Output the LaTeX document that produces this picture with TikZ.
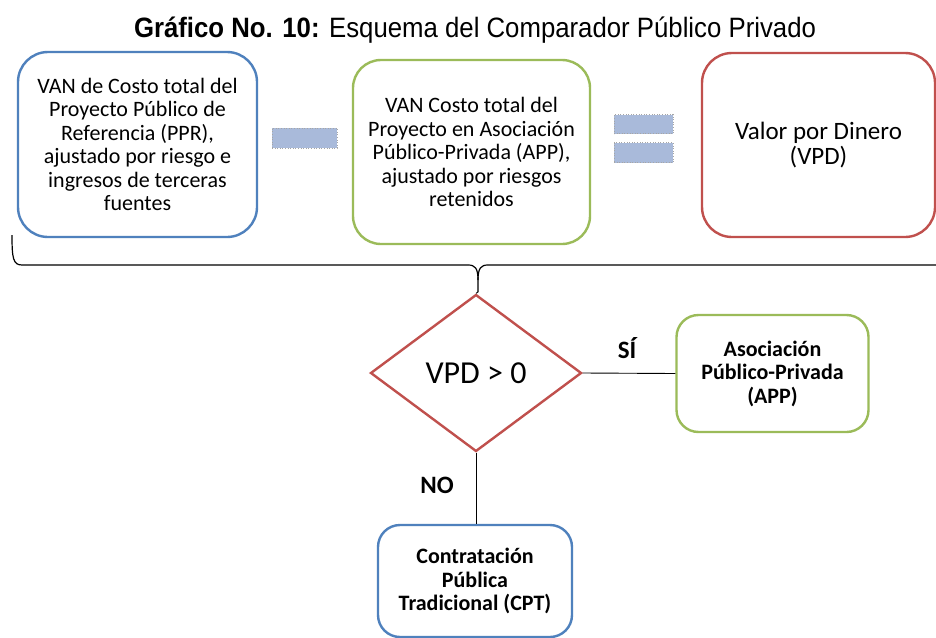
\documentclass[tikz,border=0pt]{standalone}
\usepackage{fontspec}
\setmainfont{Carlito}
\newfontfamily\titlefont[FakeStretch=0.92]{Liberation Sans}
\usetikzlibrary{shapes.geometric}
\definecolor{cblue}{HTML}{4F81BD}
\definecolor{cgreen}{HTML}{9BBB59}
\definecolor{cred}{HTML}{C0504D}
\definecolor{cbar}{HTML}{A9BADA}
\tikzset{
  bigbox/.style={draw, line width=2.4pt, rounded corners=30pt, align=center,
    inner sep=0pt, font=\fontsize{22}{23.5}\selectfont, fill=white},
  smallbox/.style={draw, line width=2.4pt, rounded corners=22pt, align=center,
    inner sep=0pt, font=\bfseries\fontsize{22}{23.5}\selectfont, fill=white},
  bar/.style={draw=gray!70, dotted, line width=0.6pt, fill=cbar, inner sep=0pt},
  conn/.style={draw=black, line width=0.9pt},
  lbl/.style={font=\bfseries\fontsize{25}{28}\selectfont, inner sep=0pt}
}
\begin{document}
\begin{tikzpicture}[x=1pt,y=-1pt]
\useasboundingbox (0,0) rectangle (936,637);
\fill[white] (0,0) rectangle (936,637);
\node[font=\titlefont\fontsize{28}{32}\selectfont, inner sep=0pt] (title) at (475,30)
  {\textbf{Gráfico No. 10:} Esquema del Comparador Público Privado};

\node[bigbox, draw=cblue, minimum width=239pt, minimum height=185pt] (ppr) at (137.5,144.5)
  {VAN de Costo total del\\Proyecto Público de\\Referencia (PPR),\\ajustado por riesgo e\\ingresos de terceras\\fuentes};
\node[bigbox, draw=cgreen, rounded corners=28pt, minimum width=237pt, minimum height=184pt] (app) at (471.5,152)
  {VAN Costo total del\\Proyecto en Asociación\\Público-Privada (APP),\\ajustado por riesgos\\retenidos};
\node[bigbox, draw=cred, font=\fontsize{25}{25}\selectfont, minimum width=233pt, minimum height=184pt] (vpd) at (818.5,145)
  {Valor por Dinero\\(VPD)};

\node[bar, minimum width=65pt, minimum height=20pt] (minus) at (304.5,138) {};
\node[bar, minimum width=59pt, minimum height=19pt] (eqtop) at (643.5,124) {};
\node[bar, minimum width=59pt, minimum height=20pt] (eqbot) at (643.5,152.5) {};

% brace
\coordinate (bl) at (12,235);
\coordinate (br) at (940,265);
\coordinate (btip) at (478,292);
\draw[line width=1.2pt] (bl) .. controls (12,258) and (13,265) .. (22,265) -- (468,265)
  .. controls (475,265) and (478,268) .. (478,280) -- (btip);
\draw[line width=1.2pt] (br) -- (488,265) .. controls (481,265) and (478,268) .. (478,280);

\node[diamond, draw=cred, line width=2.4pt, aspect=1.344, minimum width=211pt, minimum height=157pt,
  inner sep=0pt, fill=white, font=\fontsize{32}{36}\selectfont] (dec) at (476,373) {VPD > 0};

\node[smallbox, draw=cgreen, minimum width=192pt, minimum height=117pt] (appbox) at (772.5,373.5)
  {Asociación\\Público-Privada\\(APP)};
\node[smallbox, draw=cblue, minimum width=194pt, minimum height=112pt] (cpt) at (475,581)
  {Contratación\\Pública\\Tradicional (CPT)};

\draw[conn] (btip) -- (dec.north);
\draw[conn] (dec.east) -- (appbox.west);
\draw[conn] (dec.south) -- (dec.south |- cpt.north);

\node[lbl] (si) at (627,348) {SÍ};
\node[lbl] (no) at (437,485) {NO};
\end{tikzpicture}
\end{document}
